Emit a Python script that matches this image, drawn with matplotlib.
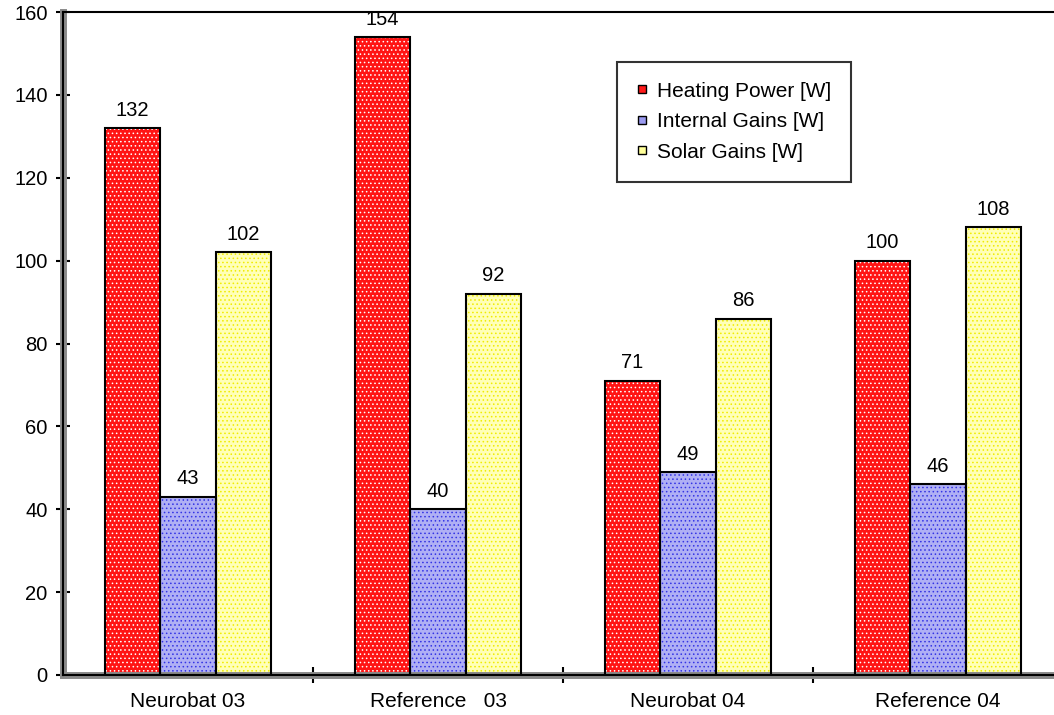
import numpy as np
import matplotlib.pyplot as plt
from matplotlib.lines import Line2D

plt.rcParams['font.family'] = ['Liberation Sans', 'DejaVu Sans']
plt.rcParams['hatch.linewidth'] = 0.6

# heat balance per building / controller
categories = ['Neurobat 03', 'Reference   03', 'Neurobat 04', 'Reference 04']
heating_power = [132, 154, 71, 100]
internal_gains = [43, 40, 49, 46]
solar_gains = [102, 92, 86, 108]
series_names = ['Heating Power [W]', 'Internal Gains [W]', 'Solar Gains [W]']
y_ticks = [0, 20, 40, 60, 80, 100, 120, 140, 160]

fig = plt.figure(figsize=(10.54, 7.15), dpi=100)
ax = fig.add_axes([63 / 1054, 40 / 715, 1000 / 1054, 663 / 715])

x = np.arange(len(categories))
w = 0.222
# face colour, dot colour, hatch
styles = [('#ff1414', 'white', '....'),
          ('#b0b0f4', '#3434e6', '....'),
          ('#ffffb8', '#f0ec00', '....')]
series = [heating_power, internal_gains, solar_gains]

for i, (vals, (fc, dc, h)) in enumerate(zip(series, styles)):
    pos = x + (i - 1) * w
    ax.bar(pos, vals, w, color=fc, edgecolor='none', zorder=2)
    ax.bar(pos, vals, w, color='none', edgecolor=dc, hatch=h, linewidth=0, zorder=3)
    ax.bar(pos, vals, w, color='none', edgecolor='black', linewidth=1.5, zorder=4)
    for p, v in zip(pos, vals):
        ax.annotate(str(v), (p, v), xytext=(0, 6), textcoords='offset points',
                    ha='center', va='bottom', fontsize=14.5)

ax.set_xlim(-0.5, 3.5)
ax.set_ylim(0, 160)
ax.set_yticks(y_ticks)
ax.tick_params(axis='y', direction='inout', length=10, width=1.5, labelsize=14.5, pad=6)

# separators between groups as major ticks, names on minor ticks
ax.set_xticks([0.5, 1.5, 2.5])
ax.set_xticklabels([])
ax.set_xticks(x, minor=True)
ax.set_xticklabels(categories, minor=True, fontsize=15)
ax.tick_params(axis='x', which='major', direction='inout', length=12, width=1.5)
ax.tick_params(axis='x', which='minor', length=0, pad=12)

ax.spines['right'].set_visible(False)
ax.spines['top'].set_linewidth(1.5)
ax.spines['left'].set_color('#8a8a8a')
ax.spines['left'].set_linewidth(5)
ax.spines['bottom'].set_color('#8a8a8a')
ax.spines['bottom'].set_linewidth(5)
ax.axvline(-0.5, color='black', lw=1.5, zorder=5, clip_on=False)
ax.axhline(0, color='black', lw=1.5, zorder=5, clip_on=False)

handles = [Line2D([], [], ls='none', marker='s', markersize=6,
                  markerfacecolor=c, markeredgecolor='black')
           for c in ['#ff1a1a', '#9a9af0', '#ffff99']]
leg = fig.legend(handles, series_names, loc='upper left',
                 bbox_to_anchor=(617 / 1054, 1 - 62 / 715), fontsize=15,
                 frameon=True, fancybox=False, borderpad=0.95, labelspacing=0.55,
                 handlelength=0.5, handletextpad=0.45, borderaxespad=0)
leg.get_frame().set_edgecolor('black')
leg.get_frame().set_linewidth(1.5)

fig.savefig('out.png', dpi=100)
